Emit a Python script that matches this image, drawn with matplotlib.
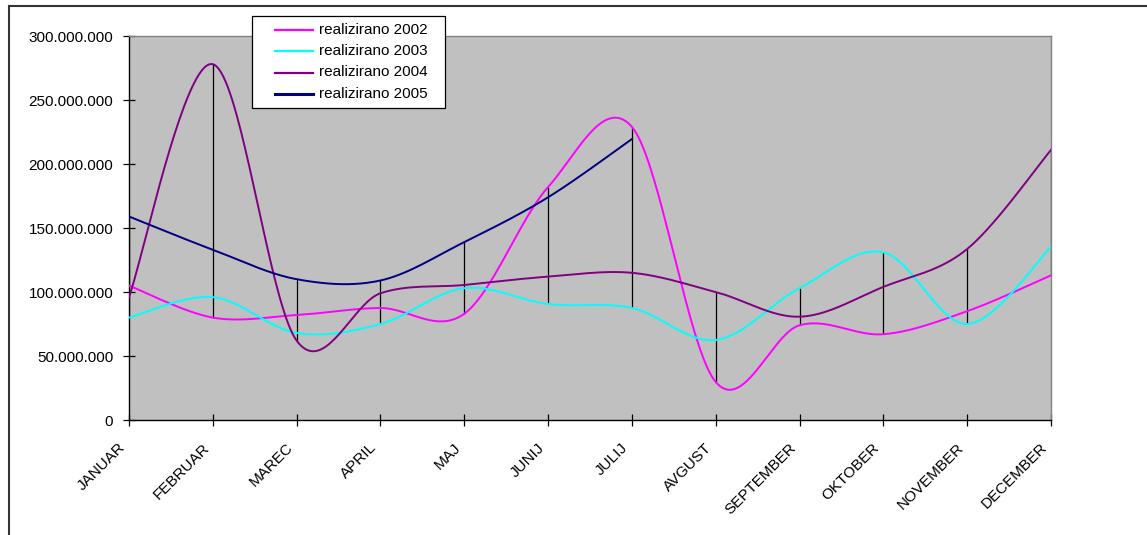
import numpy as np
import matplotlib
matplotlib.use("Agg")
import matplotlib.pyplot as plt
from matplotlib.ticker import FuncFormatter, MultipleLocator
from matplotlib.transforms import ScaledTranslation
from matplotlib.patches import Rectangle
from matplotlib.lines import Line2D

months = ["JANUAR", "FEBRUAR", "MAREC", "APRIL", "MAJ", "JUNIJ", "JULIJ",
          "AVGUST", "SEPTEMBER", "OKTOBER", "NOVEMBER", "DECEMBER"]
real_2002 = [105, 80, 82, 87.5, 83, 182, 229, 29.7, 74, 67, 85, 113]
real_2003 = [80, 96, 68, 75, 103, 90.6, 87.5, 62.5, 103, 131, 75, 135]
real_2004 = [96, 278, 62, 99, 105.5, 112, 115, 100, 80.7, 104, 133.6, 211]
real_2005 = [159, 133, 110, 109, 139, 174, 219.5]
labels = ["realizirano 2002", "realizirano 2003", "realizirano 2004", "realizirano 2005"]
colors = ["#FF00FF", "#00FFFF", "#800080", "#000080"]
SCALE = 1e6

plt.rcParams['font.family'] = ['Liberation Sans', 'DejaVu Sans']

W, H = 1147, 535


def smooth(xv, yv, n=40):
    xv = np.asarray(xv, float)
    yv = np.asarray(yv, float)
    ox, oy = [], []
    m = len(xv)
    t = np.linspace(0, 1, n)
    for i in range(m - 1):
        segs = []
        for arr in (xv, yv):
            p0 = arr[i - 1] if i > 0 else arr[i]
            p1 = arr[i]
            p2 = arr[i + 1]
            p3 = arr[i + 2] if i + 2 < m else arr[i + 1]
            c1 = p1 + (p2 - p0) / 6
            c2 = p2 - (p3 - p1) / 6
            b = (1 - t) ** 3 * p1 + 3 * (1 - t) ** 2 * t * c1 + 3 * (1 - t) * t ** 2 * c2 + t ** 3 * p2
            segs.append(b)
        ox.extend(segs[0])
        oy.extend(segs[1])
    return np.array(ox), np.array(oy)


def fx(px):
    return px / W


def fy(py):
    return 1 - py / H


fig = plt.figure(figsize=(W / 100, H / 100), dpi=100)
ax = fig.add_axes([fx(129), fy(420), (1051 - 129) / W, (420 - 36) / H])
ax.set_facecolor("#C0C0C0")

series = [real_2002, real_2003, real_2004, real_2005]

# high-low lines
for i in range(len(months)):
    vals = [s[i] * SCALE for s in series if i < len(s)]
    ax.vlines(i, min(vals), max(vals), color="black", lw=0.9, zorder=2)

for s, c, lab in zip(series, colors, labels):
    x = np.arange(len(s))
    sx, sy = smooth(x, np.array(s) * SCALE)
    ax.plot(sx, sy, color=c, lw=1.4, label=lab, zorder=3, solid_joinstyle='round')

ax.set_xlim(0, len(months) - 1)
ax.set_ylim(0, 300 * SCALE)
ax.yaxis.set_major_locator(MultipleLocator(50 * SCALE))
ax.yaxis.set_major_formatter(FuncFormatter(lambda v, _: f"{int(round(v)):,}".replace(",", ".")))
ax.set_xticks(np.arange(len(months)))
ax.set_xticklabels(months, rotation=45, ha='right', va='center', rotation_mode='anchor')

ax.tick_params(axis='both', direction='inout', length=8.6, width=0.9, colors='black', labelsize=11)
ax.tick_params(axis='y', pad=7)
ax.tick_params(axis='x', pad=14)
for lbl in ax.get_xticklabels():
    lbl.set_transform(lbl.get_transform() + ScaledTranslation(-6 / 100, 0, fig.dpi_scale_trans))

for side in ("left", "bottom"):
    ax.spines[side].set_color("black")
    ax.spines[side].set_linewidth(1.0)
for side in ("top", "right"):
    ax.spines[side].set_color("#808080")
    ax.spines[side].set_linewidth(1.0)

# legend box (drawn manually to match the Excel layout)
fig.patches.append(Rectangle((fx(252), fy(108)), (445 - 252) / W, (108 - 16) / H,
                             transform=fig.transFigure, facecolor='white',
                             edgecolor='black', lw=0.9, zorder=5))
row_y = [29.5, 51, 72.5, 93.5]
for lab, c, ry in zip(labels, colors, row_y):
    fig.lines.append(Line2D([fx(275), fx(313)], [fy(ry), fy(ry)], transform=fig.transFigure,
                            color=c, lw=1.6 if c != "#000080" else 2.2, zorder=6))
    fig.text(fx(319), fy(ry), lab, fontsize=11, va='center', ha='left', zorder=6)

# chart area border (top and left visible)
fig.patches.append(Rectangle((fx(8.5), -0.1), 1.2, fy(5.5) + 0.1,
                             transform=fig.transFigure, fill=False,
                             edgecolor='#333333', lw=1.5, zorder=0))

fig.savefig("out.png", dpi=100)
